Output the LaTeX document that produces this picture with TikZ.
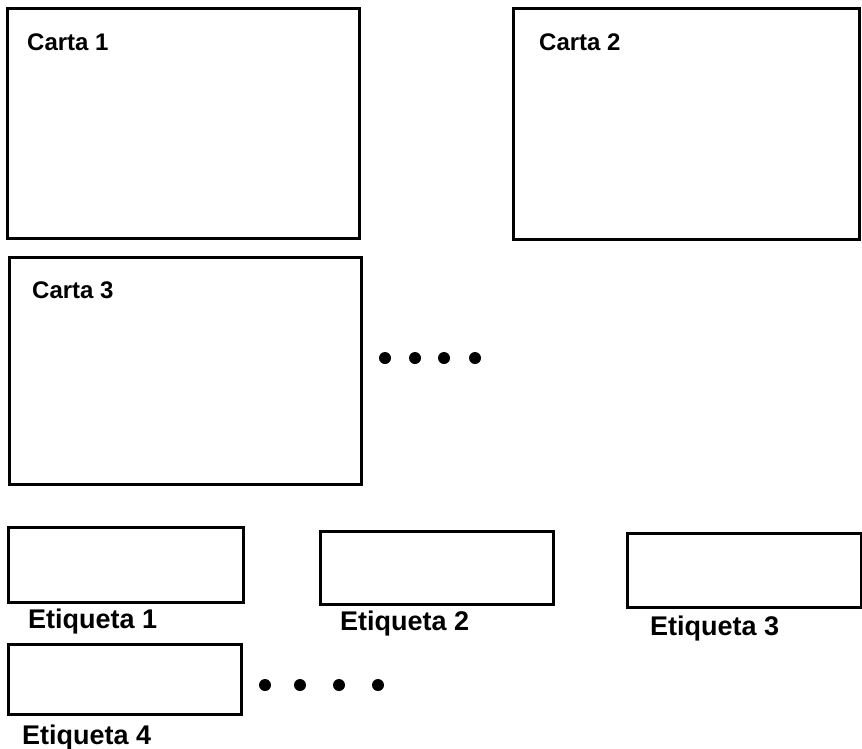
\documentclass[tikz,border=0pt]{standalone}
\usepackage{fontspec}
\setmainfont{Liberation Sans}
\begin{document}
\begin{tikzpicture}[x=1pt,y=-1pt,
  box/.style={draw,line width=3.2pt,rectangle,inner sep=0pt,anchor=north west},
  cartalbl/.style={anchor=base west,inner sep=0pt,font=\bfseries\fontsize{24}{28}\selectfont},
  etiqlbl/.style={anchor=base west,inner sep=0pt,font=\bfseries\fontsize{27}{31}\selectfont},
  dotmark/.style={fill=black,circle,inner sep=0pt,minimum size=12pt}]
\useasboundingbox (0,0) rectangle (862,748);
\fill[white] (0,0) rectangle (862,748);
% cards
\node[box,minimum width=352pt,minimum height=230pt] (c1) at (6,7) {};
\node[box,minimum width=346pt,minimum height=231pt] (c2) at (512,7) {};
\node[box,minimum width=352pt,minimum height=227pt] (c3) at (8,256) {};
\node[cartalbl] (t1) at (27,50) {Carta 1};
\node[cartalbl] (t2) at (539,50) {Carta 2};
\node[cartalbl] (t3) at (32,298) {Carta 3};
% dots after card 3
\node[dotmark] (d1) at (385,358) {};
\node[dotmark] (d2) at (415,358) {};
\node[dotmark] (d3) at (444,358) {};
\node[dotmark] (d4) at (475,358) {};
% labels
\node[box,minimum width=235pt,minimum height=75pt] (e1) at (7,526) {};
\node[box,minimum width=233pt,minimum height=73pt] (e2) at (319,530) {};
\node[box,minimum width=234pt,minimum height=74pt] (e3) at (626,532) {};
\node[box,minimum width=233pt,minimum height=70pt] (e4) at (7,643) {};
\node[etiqlbl] (l1) at (28,628) {Etiqueta 1};
\node[etiqlbl] (l2) at (340,630) {Etiqueta 2};
\node[etiqlbl] (l3) at (650,635) {Etiqueta 3};
\node[etiqlbl] (l4) at (22,744) {Etiqueta 4};
% dots after label 4
\node[dotmark] (f1) at (265,685) {};
\node[dotmark] (f2) at (300,685) {};
\node[dotmark] (f3) at (339,685) {};
\node[dotmark] (f4) at (378,685) {};
\end{tikzpicture}
\end{document}
